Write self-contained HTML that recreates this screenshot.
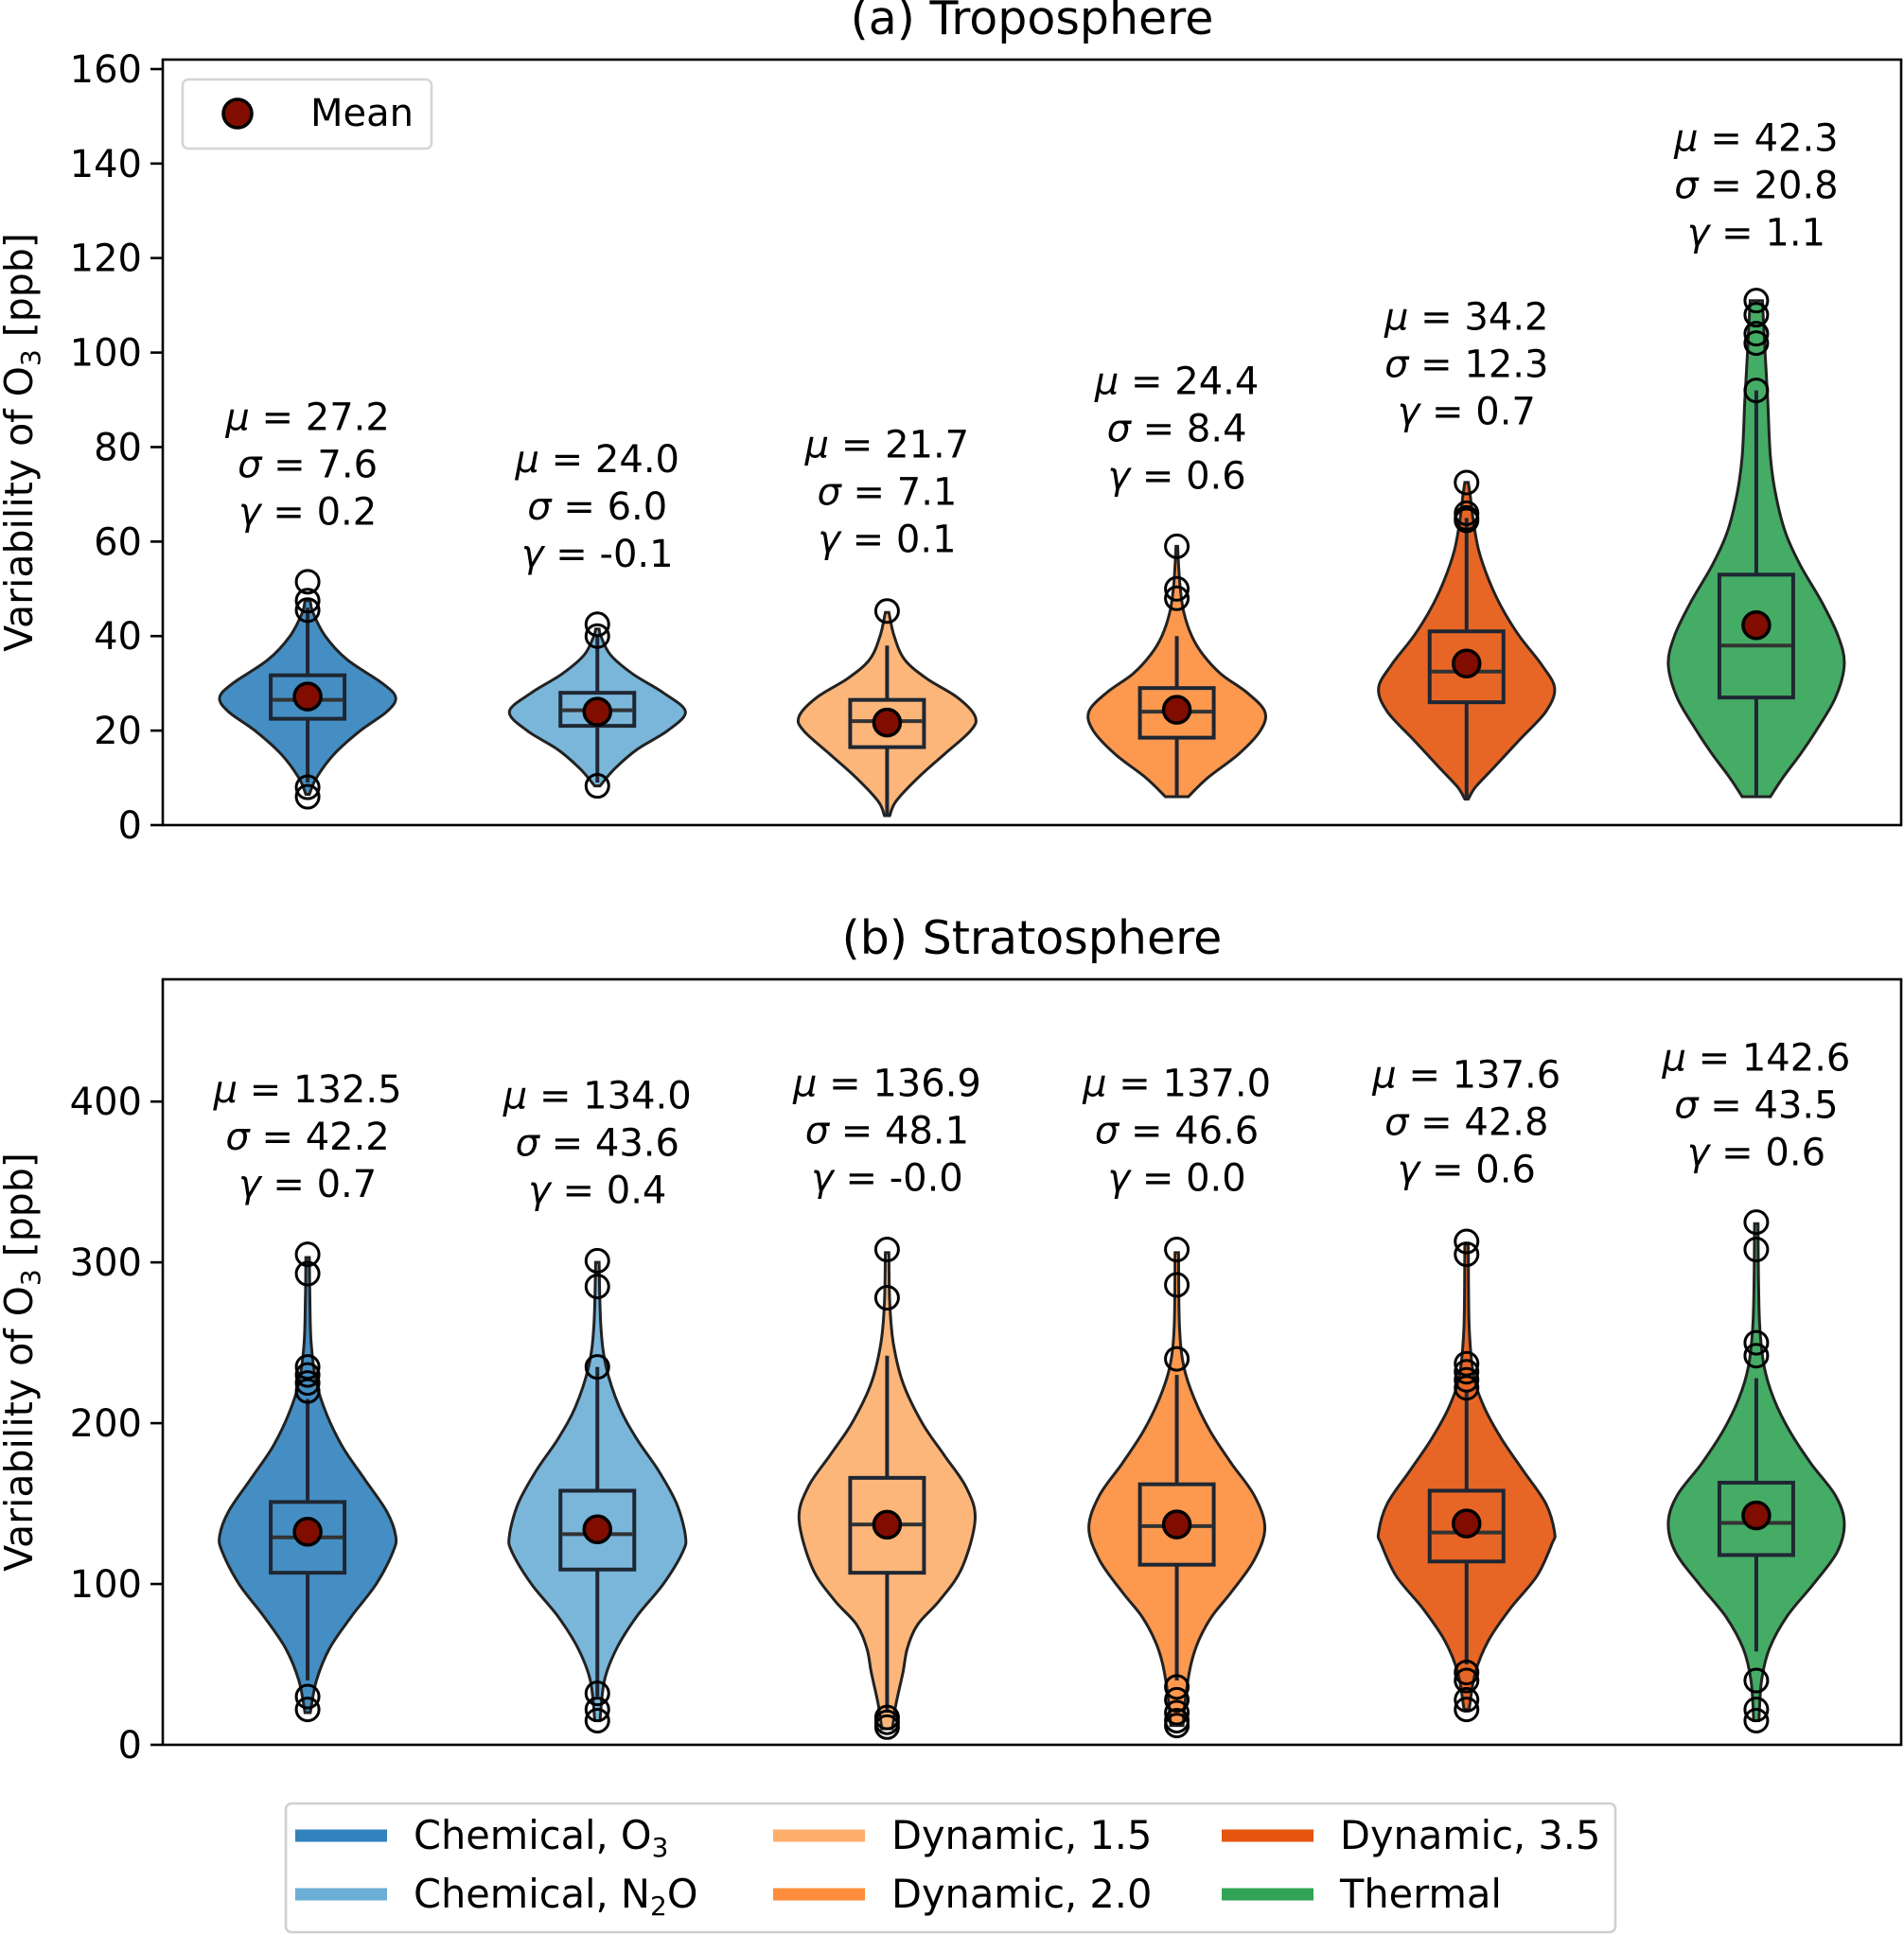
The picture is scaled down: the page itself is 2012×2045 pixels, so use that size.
<!DOCTYPE html>
<html><head><meta charset="utf-8"><style>
html,body{margin:0;padding:0;background:#fff}
svg{display:block}
text{font-family:"DejaVu Sans","Liberation Sans",sans-serif;fill:#000}
</style></head><body>
<svg id="fig" width="2012" height="2045" viewBox="0 0 2012 2045" xmlns="http://www.w3.org/2000/svg">
<g id="top"></g>
<g id="bot"></g>
<g id="legend"></g>
</svg>
<script>
const categories = ["Chemical, O3","Chemical, N2O","Dynamic, 1.5","Dynamic, 2.0","Dynamic, 3.5","Thermal"];
const colors = ["#3182bd","#6baed6","#fdae6b","#fd8d3c","#e6550d","#31a354"];
// Troposphere
const tropMu = ["27.2","24.0","21.7","24.4","34.2","42.3"];
const tropSigma = ["7.6","6.0","7.1","8.4","12.3","20.8"];
const tropGamma = ["0.2","-0.1","0.1","0.6","0.7","1.1"];
const tropMean = [27.2,24.0,21.7,24.4,34.2,42.3];
const tropQ1 = [22.5,21,16.5,18.5,26,27];
const tropMed = [26.5,24.3,22,24,32.5,38];
const tropQ3 = [31.7,28,26.5,29,41,53];
const tropWLo = [9,9,2,6,5.5,6];
const tropWHi = [46,40,38,40,65,92];
const tropOutliers = [[51.5,47.5,45.5,8,6],[42.5,40,8.3],[45.3],[59,50,48],[72.5,66,65,64.5],[111,108,104,102,92]];
const tropLabelY = [86.4,77.5,80.6,94,107.6,145.5];
const tropProfiles = [
 [[6.5,0.02],[10,0.1],[15,0.3],[20,0.6],[24,0.9],[27,1.0],[30,0.85],[35,0.45],[40,0.2],[45,0.06],[47.5,0.03]],
 [[8.3,0.03],[12,0.2],[16,0.45],[20,0.8],[24,1.0],[28,0.75],[32,0.4],[36,0.15],[40,0.04],[41.5,0.02]],
 [[2,0.03],[5,0.1],[10,0.35],[15,0.65],[20,0.95],[23,1.0],[27,0.8],[31,0.45],[35,0.2],[40,0.08],[45,0.02]],
 [[6,0.13],[10,0.35],[15,0.7],[20,0.95],[24,1.0],[28,0.8],[32,0.5],[36,0.3],[40,0.17],[45,0.08],[50,0.04],[55,0.02],[59,0.01]],
 [[5.5,0.02],[8,0.1],[12,0.3],[18,0.6],[24,0.9],[29,1.0],[34,0.85],[40,0.6],[46,0.4],[52,0.25],[58,0.14],[64,0.08],[70,0.04],[72.5,0.02]],
 [[6,0.16],[10,0.3],[15,0.5],[20,0.68],[27,0.9],[34,1.0],[40,0.93],[47,0.75],[55,0.5],[62,0.33],[70,0.22],[78,0.16],[90,0.13],[100,0.1],[111,0.07]]
];
const tropTicks = [0,20,40,60,80,100,120,140,160];
// Stratosphere
const stratMu = ["132.5","134.0","136.9","137.0","137.6","142.6"];
const stratSigma = ["42.2","43.6","48.1","46.6","42.8","43.5"];
const stratGamma = ["0.7","0.4","-0.0","0.0","0.6","0.6"];
const stratMean = [132.5,134.0,136.9,137.0,137.6,142.6];
const stratQ1 = [107,109,107,112,114,118];
const stratMed = [129,131,137,136,132,138];
const stratQ3 = [151,158,166,162,158,163];
const stratWLo = [40,30,20,40,50,58];
const stratWHi = [215,235,242,230,220,228];
const stratOutliers = [[305,293,235,230,225,220,30,22],[301,285,235,32,22,15],[308,278,17,14,11],[308,286,240,36,28,20,15,12],[313,305,237,232,227,222,45,40,28,22],[325,308,250,242,40,22,15]];
const stratLabelY = [407.7,403.8,411.5,411.5,417,427.6];
const stratProfiles = [
 [[20,0.03],[40,0.1],[60,0.25],[80,0.5],[100,0.78],[120,0.97],[130,1.0],[145,0.9],[165,0.65],[185,0.4],[205,0.22],[225,0.1],[250,0.04],[280,0.025],[303,0.02]],
 [[15,0.03],[40,0.08],[60,0.22],[80,0.45],[100,0.75],[120,0.97],[130,1.0],[150,0.9],[170,0.7],[190,0.45],[210,0.25],[235,0.1],[260,0.04],[300,0.02]],
 [[10,0.06],[25,0.1],[45,0.18],[60,0.23],[75,0.35],[90,0.6],[110,0.85],[140,1.0],[160,0.9],[180,0.65],[200,0.4],[225,0.18],[250,0.07],[275,0.03],[306,0.02]],
 [[12,0.07],[30,0.1],[50,0.16],[65,0.25],[80,0.4],[95,0.62],[115,0.88],[135,1.0],[155,0.88],[175,0.62],[195,0.38],[215,0.2],[235,0.08],[260,0.03],[306,0.02]],
 [[22,0.03],[45,0.1],[65,0.25],[85,0.5],[105,0.8],[125,0.97],[132,1.0],[150,0.9],[170,0.65],[190,0.4],[210,0.2],[230,0.08],[260,0.03],[311,0.02]],
 [[15,0.03],[40,0.06],[60,0.15],[80,0.35],[100,0.65],[120,0.92],[138,1.0],[155,0.9],[175,0.62],[195,0.38],[215,0.2],[235,0.09],[260,0.04],[290,0.025],[324,0.02]]
];
const stratTicks = [0,100,200,300,400];

const NS = "http://www.w3.org/2000/svg";
function mk(tag, attrs, parent){const e=document.createElementNS(NS,tag);for(const k in attrs)e.setAttribute(k,attrs[k]);parent.appendChild(e);return e;}
const AX_L=172, AX_R=2009;
function xs(i){return AX_L+(i+0.5)*(AX_R-AX_L)/6;}
const HALF=93, BOXHALF=39;

function smooth(pts){
  let d="";
  for(let i=0;i<pts.length-1;i++){
    const p0=pts[Math.max(0,i-1)],p1=pts[i],p2=pts[i+1],p3=pts[Math.min(pts.length-1,i+2)];
    const c1=[p1[0]+(p2[0]-p0[0])/6,p1[1]+(p2[1]-p0[1])/6];
    const c2=[p2[0]-(p3[0]-p1[0])/6,p2[1]-(p3[1]-p1[1])/6];
    d+=` C${c1[0].toFixed(1)},${c1[1].toFixed(1)} ${c2[0].toFixed(1)},${c2[1].toFixed(1)} ${p2[0].toFixed(1)},${p2[1].toFixed(1)}`;
  }
  return d;
}

function panel(g, top, bottom, ymax, ticks, title, profiles, q1, med, q3, wlo, whi, outs, means, mu, sg, gm, labY){
  const ys=v=>bottom-(v/ymax)*(bottom-top);
  const t=mk("text",{x:(AX_L+AX_R)/2,y:top-27,"text-anchor":"middle","font-size":49},g);
  t.textContent=title;
  
  
  const yl=mk("text",{transform:`translate(34,${(top+bottom)/2}) rotate(-90)`,"text-anchor":"middle","font-size":41},g);
  
  
  yl.innerHTML='Variability of O<tspan font-size="28" dy="8">3</tspan><tspan dy="-8"> [ppb]</tspan>';
  ticks.forEach(v=>{
    const y=ys(v);
    const tk=mk("line",{x1:AX_L-13,x2:AX_L,y1:y,y2:y,stroke:"#000","stroke-width":2.6},g);
    
    
    const tl=mk("text",{x:AX_L-22,y:y+14,"text-anchor":"end","font-size":40},g);
    tl.textContent=v;
    
    
  });
  for(let i=0;i<6;i++){
    const cx=xs(i);
    const pr=profiles[i];
    const right=pr.map(p=>[cx+p[1]*HALF,ys(p[0])]);
    const left=pr.slice().reverse().map(p=>[cx-p[1]*HALF,ys(p[0])]);
    let d=`M${right[0][0].toFixed(1)},${right[0][1].toFixed(1)}`+smooth(right)+` L${left[0][0].toFixed(1)},${left[0][1].toFixed(1)}`+smooth(left)+" Z";
    const v=mk("path",{d:d,fill:colors[i],"fill-opacity":0.9,stroke:"#222","stroke-width":3},g);
    
    
    const w1=mk("line",{x1:cx,x2:cx,y1:ys(wlo[i]),y2:ys(q1[i]),stroke:"#1e2733","stroke-width":4},g);
    
    
    const w2=mk("line",{x1:cx,x2:cx,y1:ys(q3[i]),y2:ys(whi[i]),stroke:"#1e2733","stroke-width":4},g);
    
    
    const b=mk("rect",{x:cx-BOXHALF,y:ys(q3[i]),width:2*BOXHALF,height:ys(q1[i])-ys(q3[i]),fill:"none",stroke:"#1e2733","stroke-width":4},g);
    
    
    const m=mk("line",{x1:cx-BOXHALF+2,x2:cx+BOXHALF-2,y1:ys(med[i]),y2:ys(med[i]),stroke:"#333","stroke-width":4},g);
    
    
    outs[i].forEach(o=>{
      const c=mk("circle",{cx:cx,cy:ys(o),r:12,fill:"none",stroke:"#000","stroke-width":3},g);
      
      
    });
    const mc=mk("circle",{cx:cx,cy:ys(means[i]),r:14,fill:"#800d00",stroke:"#000","stroke-width":3.5},g);
    
    
    const ly=ys(labY[i]);
    const sym=["\u03BC","\u03C3","\u03B3"], vals=[mu[i],sg[i],gm[i]];
    for(let k=0;k<3;k++){
      const tx=mk("text",{x:cx,y:ly+14+k*50,"text-anchor":"middle","font-size":40},g);
      tx.innerHTML='<tspan font-style="italic">'+sym[k]+'</tspan> = '+vals[k];
      
      
    }
  }
  const fr=mk("rect",{x:AX_L,y:top,width:AX_R-AX_L,height:bottom-top,fill:"none",stroke:"#000","stroke-width":2.6},g);
  
  
}
const gT=document.getElementById("top"), gB=document.getElementById("bot");
panel(gT,63,872,162.0,tropTicks,"(a) Troposphere",tropProfiles,tropQ1,tropMed,tropQ3,tropWLo,tropWHi,tropOutliers,tropMean,tropMu,tropSigma,tropGamma,tropLabelY);
panel(gB,1035,1844,476,stratTicks,"(b) Stratosphere",stratProfiles,stratQ1,stratMed,stratQ3,stratWLo,stratWHi,stratOutliers,stratMean,stratMu,stratSigma,stratGamma,stratLabelY);
const ml=mk("g",{},gT);


mk("rect",{x:193,y:84,width:263,height:73,rx:6,fill:"#fff",stroke:"#d5d5d5","stroke-width":2.6},ml);
mk("circle",{cx:251,cy:120,r:15,fill:"#800d00",stroke:"#000","stroke-width":3.5},ml);
const mt=mk("text",{x:328,y:133,"font-size":40},ml);mt.textContent="Mean";
const gL=document.getElementById("legend");
mk("rect",{x:302,y:1906,width:1405,height:136,rx:6,fill:"#fff",stroke:"#cfcfcf","stroke-width":2.6},gL);
const colX=[312,817,1291], rowY=[1940,2002];
const labelsHTML=['Chemical, O<tspan font-size="28" dy="8">3</tspan>','Chemical, N<tspan font-size="28" dy="8">2</tspan><tspan dy="-8">O</tspan>','Dynamic, 1.5','Dynamic, 2.0','Dynamic, 3.5','Thermal'];
for(let i=0;i<6;i++){
  const c=Math.floor(i/2), r=i%2;
  const e=mk("g",{},gL);
  
  
  mk("line",{x1:colX[c],x2:colX[c]+97,y1:rowY[r],y2:rowY[r],stroke:colors[i],"stroke-width":13},e);
  const t=mk("text",{x:colX[c]+125,y:rowY[r]+14,"font-size":41.5},e);
  t.innerHTML=labelsHTML[i];
}
</script>
</body></html>
